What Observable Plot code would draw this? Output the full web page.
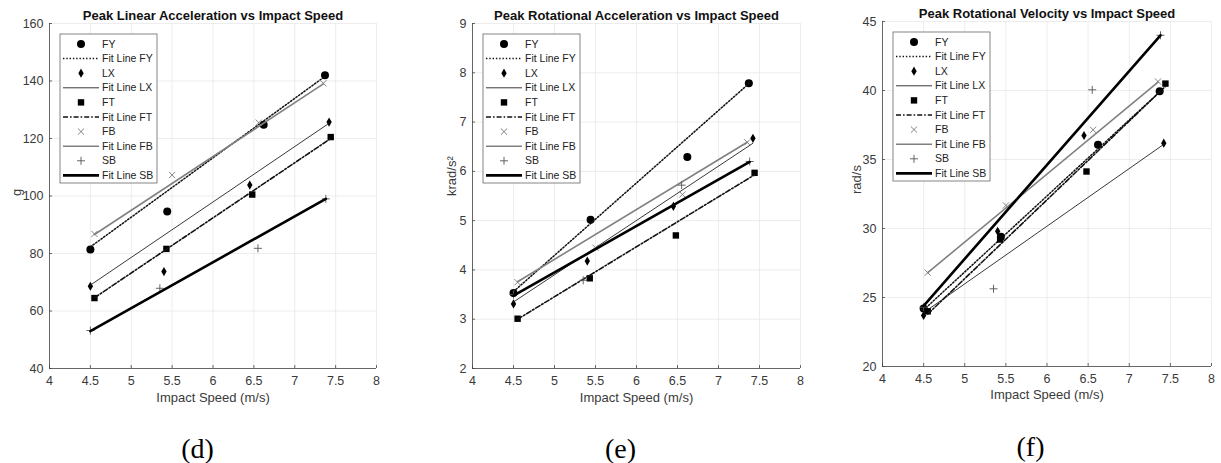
<!DOCTYPE html>
<html><head><meta charset="utf-8">
<script src="https://cdn.jsdelivr.net/npm/d3@7"></script>
<script src="https://cdn.jsdelivr.net/npm/@observablehq/plot@0.6"></script>
<style>
body{margin:0;background:#fff;}
#wrap{position:relative;width:1221px;height:463px;overflow:hidden;background:#fff;}
#wrap svg{position:absolute;top:0;}
</style></head><body><div id="wrap"></div>
<script>
// ---------- data ----------
const speedTicks = [4, 4.5, 5, 5.5, 6, 6.5, 7, 7.5, 8];
const seriesNames = ["FY", "LX", "FT", "FB", "SB"];

// impact speeds (m/s) of each series
const speedFY = [4.5, 5.44, 6.62, 7.37];
const speedLX = [4.5, 5.4, 6.45, 7.42];
const speedFT = [4.55, 5.43, 6.48, 7.44];
const speedFB = [4.55, 5.5, 6.56, 7.35];
const speedSB = [4.5, 5.35, 6.55, 7.38];

// (d) Peak Linear Acceleration (g)
const linFY = [81.4, 94.6, 124.8, 142.0];
const linLX = [68.6, 73.7, 103.8, 125.7];
const linFT = [64.5, 81.6, 100.5, 120.5];
const linFB = [86.8, 107.3, 125.5, 139.2];
const linSB = [53.2, 67.9, 81.8, 99.0];
// fit line end values (at first and last speed)
const linFitFY = [82.3, 141.6];
const linFitLX = [69.0, 125.3];
const linFitFT = [64.6, 120.0];
const linFitFB = [86.6, 139.0];
const linFitSB = [53.0, 99.0];
const linTicks = [40, 60, 80, 100, 120, 140, 160];

// (e) Peak Rotational Acceleration (krad/s^2)
const rotFY = [3.53, 5.02, 6.29, 7.79];
const rotLX = [3.31, 4.18, 5.29, 6.67];
const rotFT = [3.01, 3.83, 4.70, 5.97];
const rotFB = [3.75, 4.45, 5.53, 6.59];
const rotSB = [3.50, 3.79, 5.72, 6.20];
const rotFitFY = [3.56, 7.78];
const rotFitLX = [3.35, 6.57];
const rotFitFT = [3.00, 5.93];
const rotFitFB = [3.76, 6.59];
const rotFitSB = [3.48, 6.19];
const rotTicks = [2, 3, 4, 5, 6, 7, 8, 9];

// (f) Peak Rotational Velocity (rad/s)
const velFY = [24.2, 29.4, 36.06, 39.95];
const velLX = [23.7, 29.8, 36.74, 36.18];
const velFT = [24.0, 29.2, 34.13, 40.5];
const velFB = [26.8, 31.67, 37.15, 40.65];
const velSB = [24.3, 25.63, 40.05, 44.0];
const velFitFY = [24.1, 39.9];
const velFitLX = [23.9, 36.1];
const velFitFT = [23.8, 40.3];
const velFitFB = [26.8, 40.6];
const velFitSB = [24.4, 44.0];
const velTicks = [20, 25, 30, 35, 40, 45];

const speeds = [speedFY, speedLX, speedFT, speedFB, speedSB];

// ---------- styles ----------
const FONT = '"Liberation Sans", Arial, Helvetica, sans-serif';
const symCircle = {draw(c, size){const r = Math.sqrt(size/Math.PI); c.moveTo(r,0); c.arc(0,0,r,0,2*Math.PI); c.closePath();}};
const symDiamond = {draw(c, size){const r = Math.sqrt(size/Math.PI); const w = r*0.58; c.moveTo(0,-r); c.lineTo(w,0); c.lineTo(0,r); c.lineTo(-w,0); c.closePath();}};
const symSquare = {draw(c, size){const r = Math.sqrt(size/Math.PI); c.rect(-r,-r,2*r,2*r);}};
const symTimes = {draw(c, size){const r = Math.sqrt(size/Math.PI); c.moveTo(-r,-r); c.lineTo(r,r); c.moveTo(r,-r); c.lineTo(-r,r);}};
const symPlus = {draw(c, size){const r = Math.sqrt(size/Math.PI); c.moveTo(-r,0); c.lineTo(r,0); c.moveTo(0,-r); c.lineTo(0,r);}};

const markerStyle = [
  {symbol: symCircle, r: 4, fill: "#000", stroke: "none"},
  {symbol: symDiamond, r: 4.6, fill: "#000", stroke: "none"},
  {symbol: symSquare, r: 3.2, fill: "#000", stroke: "none"},
  {symbol: symTimes, r: 3.1, fill: "none", stroke: "#777", strokeWidth: 0.9},
  {symbol: symPlus, r: 4, fill: "none", stroke: "#555", strokeWidth: 0.9}
];
const lineStyle = [
  {stroke: "#111", strokeWidth: 1.5, strokeDasharray: "1.4,1.9"},
  {stroke: "#222", strokeWidth: 0.9},
  {stroke: "#111", strokeWidth: 1.6, strokeDasharray: "5,2,1.6,2"},
  {stroke: "#808080", strokeWidth: 1.6},
  {stroke: "#000", strokeWidth: 2.6}
];

const panels = [
  {left: 0, width: 410, mL: 49, mR: 34, mT: 23, mB: 95, yDomain: [40, 160], yTicks: linTicks,
   values: [linFY, linLX, linFT, linFB, linSB], fits: [linFitFY, linFitLX, linFitFT, linFitFB, linFitSB],
   title: "Peak Linear Acceleration vs Impact Speed", ylabel: "g", ylabelDx: -29, caption: "(d)", capDx: -15.5, xlabDy: 33},
  {left: 410, width: 410, mL: 62, mR: 20, mT: 23, mB: 95, yDomain: [2, 9], yTicks: rotTicks,
   values: [rotFY, rotLX, rotFT, rotFB, rotSB], fits: [rotFitFY, rotFitLX, rotFitFT, rotFitFB, rotFitSB],
   title: "Peak Rotational Acceleration vs Impact Speed", ylabel: "krad/s²", ylabelDx: -17, caption: "(e)", capDx: -16, xlabDy: 33},
  {left: 820, width: 401, mL: 62, mR: 10, mT: 21, mB: 97, yDomain: [20, 45], yTicks: velTicks,
   values: [velFY, velLX, velFT, velFB, velSB], fits: [velFitFY, velFitLX, velFitFT, velFitFB, velFitSB],
   title: "Peak Rotational Velocity vs Impact Speed", ylabel: "rad/s", ylabelDx: -22, caption: "(f)", capDx: -16.5, xlabDy: 32}
];

const H = 463;
const wrap = document.getElementById("wrap");

function makePanel(p) {
  const plotW = p.width - p.mL - p.mR;
  const plotH = H - p.mT - p.mB;
  const marks = [
    Plot.gridX(speedTicks, {stroke: "#e8e8e8", strokeOpacity: 1, strokeWidth: 0.8}),
    Plot.gridY(p.yTicks, {stroke: "#e8e8e8", strokeOpacity: 1, strokeWidth: 0.8}),
    Plot.ruleX([4], {stroke: "#444", strokeWidth: 0.8}),
    Plot.ruleY([p.yDomain[0]], {stroke: "#444", strokeWidth: 0.8}),
    Plot.tickX(speedTicks, {stroke: "#444", strokeWidth: 0.8, insetTop: plotH - 3}),
    Plot.tickY(p.yTicks, {stroke: "#444", strokeWidth: 0.8, insetRight: plotW - 3}),
    Plot.axisX({ticks: speedTicks, tickSize: 0, tickPadding: 8, label: null, tickFormat: d => String(d), fontSize: 12.5}),
    Plot.axisY({ticks: p.yTicks, tickSize: 0, tickPadding: 6, label: null, tickFormat: d => String(d), fontSize: 12.5})
  ];
  seriesNames.forEach((s, k) => {
    const pts = p.values[k].map((v, i) => ({speed: speeds[k][i], value: v}));
    const sp = speeds[k];
    const fit = [{speed: sp[0], value: p.fits[k][0]}, {speed: sp[sp.length - 1], value: p.fits[k][1]}];
    marks.push(Plot.dot(pts, {x: "speed", y: "value", ...markerStyle[k]}));
    marks.push(Plot.line(fit, {x: "speed", y: "value", ...lineStyle[k]}));
  });
  marks.push(
    Plot.text([p.title], {frameAnchor: "top", dy: -4, lineAnchor: "bottom", fontWeight: "bold", fontSize: 13, fill: "#111"}),
    Plot.text(["Impact Speed (m/s)"], {frameAnchor: "bottom", dy: p.xlabDy, lineAnchor: "bottom", fontSize: 13, fill: "#3a3a3a"}),
    Plot.text([p.ylabel], {frameAnchor: "left", dx: p.ylabelDx, rotate: -90, lineAnchor: "bottom", fontSize: 13, fill: "#3a3a3a"}),
    Plot.text([p.caption], {frameAnchor: "bottom", dx: p.capDx, dy: 89, lineAnchor: "bottom", fontSize: 28, fontFamily: '"Liberation Serif", "Times New Roman", serif', fill: "#000"})
  );
  const svg = Plot.plot({
    width: p.width, height: H,
    marginLeft: p.mL, marginRight: p.mR, marginTop: p.mT, marginBottom: p.mB,
    x: {domain: [4, 8]},
    y: {domain: p.yDomain},
    style: {fontFamily: FONT, color: "#3a3a3a", background: "transparent", overflow: "visible"},
    marks
  });
  svg.style.left = p.left + "px";
  // legend
  const g = d3.select(svg).append("g").attr("transform", `translate(${p.mL + 11},${p.mT + 11})`)
    .attr("text-anchor", "start");
  g.append("rect").attr("x", 0).attr("y", 0).attr("width", 97).attr("height", 149)
    .attr("fill", "#fff").attr("stroke", "#666").attr("stroke-width", 0.8);
  const rowH = 14.6;
  seriesNames.forEach((s, k) => {
    const y1 = 10 + (2 * k) * rowH, y2 = 10 + (2 * k + 1) * rowH;
    const ms = markerStyle[k];
    const path = d3.path();
    ms.symbol.draw(path, ms.r * ms.r * Math.PI);
    g.append("path").attr("d", path.toString()).attr("transform", `translate(21,${y1})`)
      .attr("fill", ms.fill).attr("stroke", ms.stroke).attr("stroke-width", ms.strokeWidth || 0);
    g.append("text").attr("x", 42).attr("y", y1).attr("dy", "0.35em").attr("text-anchor", "start")
      .attr("font-size", 10.5).attr("fill", "#222").attr("font-family", FONT).text(s);
    const ls = lineStyle[k];
    g.append("line").attr("x1", 3).attr("x2", 39).attr("y1", y2).attr("y2", y2)
      .attr("stroke", ls.stroke).attr("stroke-width", ls.strokeWidth).attr("stroke-dasharray", ls.strokeDasharray || null);
    g.append("text").attr("x", 42).attr("y", y2).attr("dy", "0.35em").attr("text-anchor", "start")
      .attr("font-size", 10.5).attr("fill", "#222").attr("font-family", FONT).text("Fit Line " + s);
  });
  wrap.appendChild(svg);
}
panels.forEach(makePanel);
</script>
</body></html>
